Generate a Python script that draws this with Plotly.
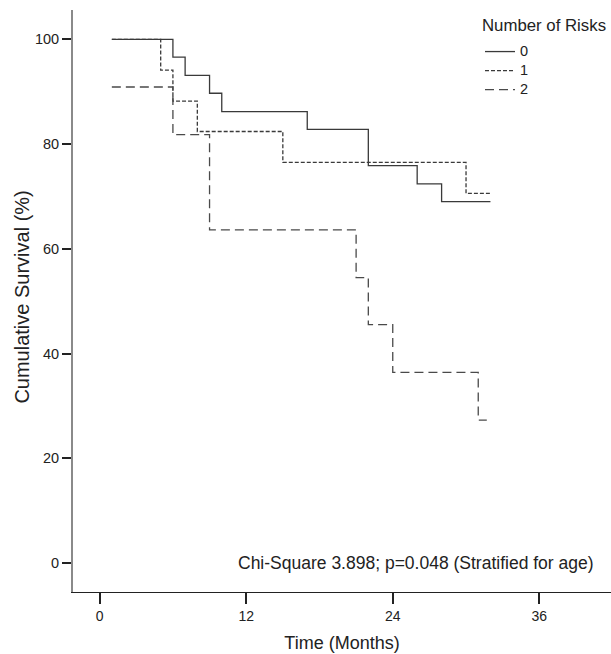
import plotly.graph_objects as go

# Kaplan-Meier step data
t_risk0 = [1, 6, 7, 9, 10, 17, 22, 26, 28, 32]
s_risk0 = [100, 96.6, 93.1, 89.7, 86.2, 82.8, 75.9, 72.4, 69.0, 69.0]

t_risk1 = [1, 5, 6, 8, 15, 30, 32]
s_risk1 = [100, 94.1, 88.2, 82.4, 76.5, 70.6, 70.6]

t_risk2 = [1, 6, 9, 21, 22, 24, 31, 31.7]
s_risk2 = [90.9, 81.8, 63.6, 54.5, 45.5, 36.4, 27.3, 27.3]

group_names = ["0", "1", "2"]
x_ticks = [0, 12, 24, 36]
y_ticks = [0, 20, 40, 60, 80, 100]

FONT = "Liberation Sans, Arial, sans-serif"
LINE = "#3a3a3a"


def leg(name):
    return '<span style="font-size:14.5px">' + name + "</span>"


fig = go.Figure()
fig.add_trace(go.Scatter(x=t_risk0, y=s_risk0, mode="lines", line_shape="hv",
                         name=leg(group_names[0]), line=dict(color=LINE, width=1.3, dash="solid")))
fig.add_trace(go.Scatter(x=t_risk1, y=s_risk1, mode="lines", line_shape="hv",
                         name=leg(group_names[1]), line=dict(color=LINE, width=1.3, dash="4px,2px")))
fig.add_trace(go.Scatter(x=t_risk2, y=s_risk2, mode="lines", line_shape="hv",
                         name=leg(group_names[2]), line=dict(color="#4a4a4a", width=1.3, dash="9px,5px")))

fig.add_annotation(text="Chi-Square 3.898; p=0.048 (Stratified for age)",
                   x=0.972, xref="paper", y=0, yref="y", showarrow=False,
                   xanchor="right", yanchor="middle",
                   font=dict(family=FONT, size=17.5, color="#222"))
# legend title
fig.add_annotation(text="Number of Risks", x=0.7565, xref="paper", y=1.0, yref="paper",
                   showarrow=False, xanchor="left", yanchor="middle", yshift=-15,
                   font=dict(family=FONT, size=16.8, color="#222"))
# y axis title
fig.add_annotation(text="Cumulative Survival (%)", x=-0.0955, xref="paper", y=0.5069, yref="paper",
                   showarrow=False, xanchor="center", yanchor="middle", textangle=-90,
                   font=dict(family=FONT, size=20, color="#222"))

fig.update_layout(
    width=611, height=654,
    margin=dict(l=73, r=0, t=10, b=62, autoexpand=False),
    paper_bgcolor="white", plot_bgcolor="white",
    font=dict(family=FONT, color="#222"),
    showlegend=True,
    legend=dict(
        font=dict(family=FONT, size=12, color="#222"),
        x=0.7565, xanchor="left", y=0.9535, yanchor="top",
        bgcolor="rgba(0,0,0,0)", tracegroupgap=0,
    ),
    xaxis=dict(
        range=[-2.18, 41.87], tickvals=x_ticks, ticktext=[str(v) for v in x_ticks],
        showgrid=False, zeroline=False, showline=True, linecolor="#222", linewidth=1.3,
        ticks="outside", ticklen=11, tickwidth=2, tickcolor="#222", automargin=False,
        tickfont=dict(family=FONT, size=14, color="#222"),
        title=dict(text="Time (Months)", font=dict(family=FONT, size=18, color="#222"), standoff=13),
    ),
    yaxis=dict(
        range=[-5.54, 105.6], tickvals=y_ticks, ticktext=[str(v) for v in y_ticks],
        showgrid=False, zeroline=False, showline=True, linecolor="#8a8a8a", linewidth=2,
        ticks="outside", ticklen=9, tickwidth=1.5, tickcolor="#222", automargin=False,
        tickfont=dict(family=FONT, size=14.5, color="#222"),
    ),
)

fig.write_html("out.html", config={"displayModeBar": False},
               post_script="document.body.style.margin='0';")
